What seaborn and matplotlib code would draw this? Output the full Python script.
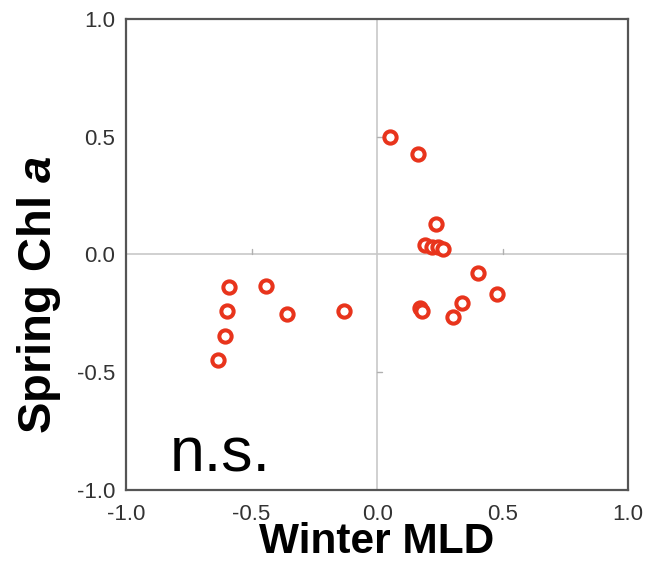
import matplotlib
matplotlib.use("Agg")
import matplotlib.pyplot as plt
import seaborn as sns
import pandas as pd

# Correlation coefficients per station
winter_mld = [0.052, 0.161, 0.236, 0.191, 0.218, 0.244, 0.262, 0.400, 0.477, 0.337,
              0.302, 0.169, 0.178, -0.130, -0.357, -0.442, -0.588, -0.599, -0.606, -0.632]
spring_chl = [0.498, 0.428, 0.129, 0.042, 0.031, 0.033, 0.024, -0.078, -0.167, -0.205,
              -0.266, -0.229, -0.239, -0.241, -0.251, -0.132, -0.137, -0.241, -0.347, -0.449]
tick_values = [-1.0, -0.5, 0.0, 0.5, 1.0]
tick_labels = ["-1.0", "-0.5", "0.0", "0.5", "1.0"]

df = pd.DataFrame({"Winter MLD": winter_mld, "Spring Chl a": spring_chl})

sns.set_style("white")
plt.rcParams["font.family"] = ["Liberation Sans", "DejaVu Sans"]
plt.rcParams["mathtext.fontset"] = "custom"
plt.rcParams["mathtext.bfit"] = "Liberation Sans:italic:bold"
plt.rcParams["mathtext.rm"] = "Liberation Sans"

fig = plt.figure(figsize=(6.53, 5.63), dpi=100)
ax = fig.add_axes([0.193, 0.1297, 0.769, 0.8367])

# zero cross-hair with small inner ticks
ax.axhline(0, color="#c8c8c8", lw=1.2, zorder=0)
ax.axvline(0, color="#c8c8c8", lw=1.2, zorder=0)
for v in (-0.5, 0.5):
    ax.plot([v, v], [0, 0.022], color="#b0b0b0", lw=1.0, zorder=0)
    ax.plot([0, 0.02], [v, v], color="#b0b0b0", lw=1.0, zorder=0)

sns.scatterplot(data=df, x="Winter MLD", y="Spring Chl a", ax=ax,
                marker="o", s=78, facecolor="white", edgecolor="#e8341c",
                linewidth=2.9, zorder=3)

ax.set_xlim(-1, 1)
ax.set_ylim(-1, 1)
ax.set_xticks(tick_values)
ax.set_xticklabels(tick_labels)
ax.set_yticks(tick_values)
ax.set_yticklabels(tick_labels)
ax.tick_params(length=0, labelsize=16, labelcolor="#333333")
ax.tick_params(axis="x", pad=10)
ax.tick_params(axis="y", pad=8)

for sp in ax.spines.values():
    sp.set_color("#555555")
    sp.set_linewidth(1.6)

ax.set_xlabel("Winter MLD", fontsize=30.5, fontweight="bold", color="black")
ax.xaxis.set_label_coords(0.5, -0.069)
ax.set_ylabel(r"Spring Chl $\mathbfit{a}$", fontsize=34, fontweight="bold", color="black")
ax.yaxis.set_label_coords(-0.126, 0.414)

ax.text(-0.825, -0.92, "n.s.", fontsize=45, color="black")

fig.savefig("out.png", dpi=100)
